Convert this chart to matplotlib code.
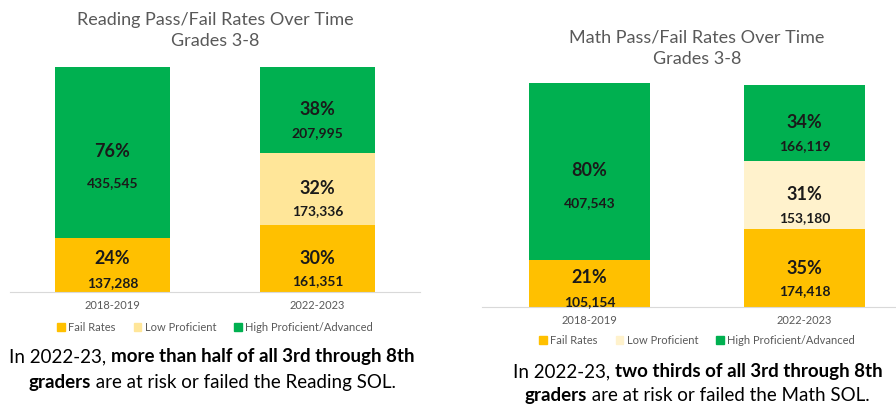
import numpy as np
import matplotlib
matplotlib.use('Agg')
import matplotlib.pyplot as plt
from matplotlib.patches import Patch

plt.rcParams['font.family'] = ['Lato', 'DejaVu Sans']

# data
years = ['2018-2019', '2022-2023']
series = ['Fail Rates', 'Low Proficient', 'High Proficient/Advanced']

read_pct = {'Fail Rates': [24, 30], 'Low Proficient': [0, 32], 'High Proficient/Advanced': [76, 38]}
read_cnt = {'Fail Rates': ['137,288', '161,351'], 'Low Proficient': ['', '173,336'],
            'High Proficient/Advanced': ['435,545', '207,995']}
math_pct = {'Fail Rates': [21, 35], 'Low Proficient': [0, 31], 'High Proficient/Advanced': [80, 34]}
math_cnt = {'Fail Rates': ['105,154', '174,418'], 'Low Proficient': ['', '153,180'],
            'High Proficient/Advanced': ['407,543', '166,119']}

W, H = 896, 406
fig = plt.figure(figsize=(W / 100, H / 100), dpi=100)
GRAY = '#595959'
PT = 0.72  # points per pixel at dpi 100


def px(x, y):
    return x / W, 1 - y / H


def rich_line(cx, y, parts, size):
    # parts: list of (text, weight); centred at cx (pixels)
    r = fig.canvas.get_renderer()
    objs = []
    for t, w in parts:
        objs.append(fig.text(0, 1 - y / H, t, fontsize=size, fontweight=w, color='black',
                             va='center', ha='left'))
    widths = [o.get_window_extent(r).width for o in objs]
    x = cx - sum(widths) / 2
    for o, w in zip(objs, widths):
        o.set_x(x / W)
        x += w


def panel(left, right, top, bottom, pct, cnt, light, ymax, title, title_y, leg_y):
    ax = fig.add_axes([left / W, 1 - bottom / H, (right - left) / W, (bottom - top) / H])
    colors = {'Fail Rates': '#FFC000', 'Low Proficient': light, 'High Proficient/Advanced': '#00B050'}
    x = np.arange(len(years))
    base = np.zeros(len(years))
    h_px = bottom - top
    for s in series:
        v = np.array(pct[s], dtype=float)
        ax.bar(x, v, bottom=base, width=0.56, color=colors[s], zorder=2)
        for i in range(len(years)):
            if v[i] > 0:
                c = base[i] + v[i] / 2
                seg = v[i] / ymax * h_px
                if seg < 60:
                    p_off, c_off = 7, -17
                elif seg > 120:
                    p_off, c_off = 2, -30
                else:
                    p_off, c_off = 1, -22
                ax.annotate(f'{int(v[i])}%', (x[i], c), xytext=(0, p_off * PT), textcoords='offset points',
                            ha='center', va='center', fontsize=13, fontweight='bold', color='#1a1a1a',
                            zorder=5, annotation_clip=False)
                ax.annotate(cnt[s][i], (x[i], c), xytext=(0, c_off * PT), textcoords='offset points',
                            ha='center', va='center', fontsize=10, fontweight='bold', color='#1a1a1a',
                            zorder=5, annotation_clip=False)
        base += v
    ax.set_xlim(-0.5, 1.5)
    ax.set_ylim(0, ymax)
    for sp in ['top', 'right', 'left']:
        ax.spines[sp].set_visible(False)
    ax.spines['bottom'].set_color('#D9D9D9')
    ax.spines['bottom'].set_zorder(3)
    ax.set_yticks([])
    ax.set_xticks([])
    for i, yr in enumerate(years):
        ax.annotate(yr, (x[i], 0), xycoords=('data', 'axes fraction'), xytext=(0, -13 * PT),
                    textcoords='offset points', ha='center', va='center', fontsize=8, color=GRAY)
    cx = (left + right) / 2
    ax.text(0.5, 1 - (title_y - top) / (bottom - top), title, transform=ax.transAxes,
            ha='center', va='center', fontsize=13, color=GRAY, linespacing=1.45)
    handles = [Patch(color=colors[s], label=s) for s in series]
    fx, fy = px(cx, leg_y)
    fig.legend(handles=handles, loc='center', bbox_to_anchor=(fx, fy), ncol=3, frameon=False,
               fontsize=8, handlelength=0.7, handleheight=0.7, handletextpad=0.3,
               columnspacing=1.6, labelcolor=GRAY)
    return ax


panel(10, 420, 68, 293, read_pct, read_cnt, '#FFE699', 100,
      'Reading Pass/Fail Rates Over Time\nGrades 3-8', 30.5, 328)
panel(482, 912, 84, 308, math_pct, math_cnt, '#FFF2CC', 101,
      'Math Pass/Fail Rates Over Time\nGrades 3-8', 48, 341)

rich_line(212, 357, [('In 2022-23, ', 'normal'), ('more than half of all 3rd through 8th', 'bold')], 13.5)
rich_line(212, 383, [('graders', 'bold'), (' are at risk or failed the Reading SOL.', 'normal')], 13.5)
rich_line(698, 372, [('In 2022-23, ', 'normal'), ('two thirds of all 3rd through 8th', 'bold')], 13.5)
rich_line(697, 396, [('graders', 'bold'), (' are at risk or failed the Math SOL.', 'normal')], 13.5)

fig.savefig('out.png', dpi=100)
